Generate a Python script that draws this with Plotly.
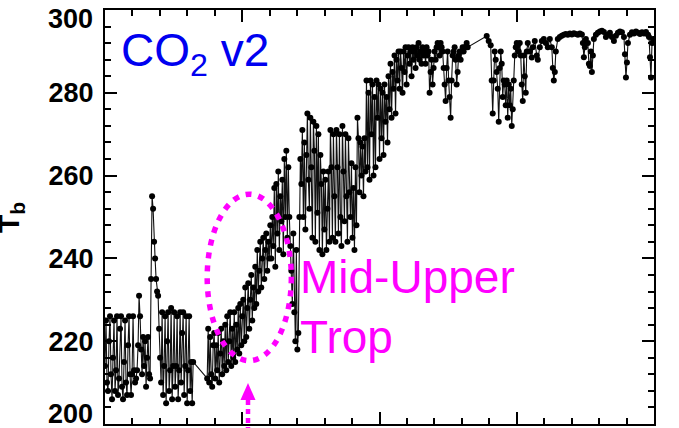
import plotly.graph_objects as go

# ---- data (x = sample position along the track, y = brightness temperature Tb) ----
sample_x = [
    0, 1, 2, 3, 4, 5, 6, 7, 8, 9, 10, 11, 12, 13, 14, 15, 16, 17, 18, 19, 20, 21, 22, 23, 24, 25, 26, 27, 28, 29, 30, 31,
    32, 33, 34, 35, 36, 37, 38, 39, 40, 41, 42, 43, 44,
    45, 46, 47, 48, 49, 50, 51, 52, 53, 54, 55,
    56, 57, 58, 59, 60, 61, 62, 63, 64, 65, 66, 67, 68, 69, 70, 71, 72, 73, 74, 75, 76, 77, 78, 79, 80, 81, 82, 83, 84, 85, 86, 87, 88,
    102, 103, 104, 105, 106, 107, 108,
    109, 110, 111, 112, 113, 114, 115, 116, 117, 118, 119,
    120, 121, 122, 123, 124, 125, 126, 127, 128, 129, 130, 131, 132, 133, 134,
    135, 136, 137, 138, 139, 140, 141, 142, 143, 144, 145, 146, 147, 148, 149,
    150, 151, 152, 153, 154, 155, 156, 157, 158, 159, 160, 161, 162, 163, 164,
    165, 166, 167, 168, 169, 170, 171, 172, 173, 174, 175, 176, 177, 178, 179, 180, 181, 182, 183, 184, 185, 186,
    187, 188, 189, 190, 191, 192, 193,
    194, 195, 196, 197, 198, 199, 200, 201, 202, 203, 204, 205, 206, 207, 208, 209, 210, 211, 212, 213,
    214, 215, 216, 217, 218, 219, 220, 221, 222, 223, 224, 225, 226, 227, 228, 229, 230, 231, 232, 233,
    234, 235, 236, 237, 238, 239, 240, 241, 242, 243, 244, 245, 246, 247, 248, 249, 250, 251, 252, 253,
    254, 255, 256, 257, 258, 259, 260, 261, 262, 263, 264, 265, 266, 267, 268, 269, 270, 271, 272, 273,
    274, 275, 276, 277, 278, 279, 280, 281, 282, 283, 284, 285, 286, 287, 288, 289, 290, 291, 292, 293, 294,
    295, 296, 297, 298, 299, 300, 301, 302, 303, 304, 305, 306, 307, 308, 309, 310, 311, 312, 313, 314,
    315, 316, 317, 318, 319, 320, 321, 322, 323, 324, 325, 326, 327, 328, 329, 330, 331, 332, 333, 334,
    335, 336, 337, 338, 339, 340, 341, 342, 343, 344, 345, 346, 347, 348, 349, 350, 351, 352, 353, 354,
    355, 356, 357, 358, 359, 360, 361, 362,
    381, 383, 385, 386, 387, 388, 389, 390, 391, 392, 393, 394, 395, 396, 397, 398, 399, 400, 401, 402,
    403, 404, 405, 406, 407, 408, 409, 410, 411,
    412, 413, 414, 415, 416, 417, 418, 419, 420, 421, 422, 424, 426, 427, 429, 431, 432, 434, 436, 438,
    440, 442, 444, 446, 447, 448, 449, 450, 452, 454, 456, 458, 460, 462, 464, 466, 468, 470, 472, 474,
    476, 477, 478, 479, 480, 482, 483, 484, 485, 486, 487, 488, 490, 492, 494, 496, 498, 500, 502, 504,
    506, 508, 510, 512, 514, 516, 518, 519, 520, 521, 522, 524, 526, 528, 530, 532, 534, 536, 538, 540,
    542, 543, 544, 545, 546, 547,
]

tb_values = [
    214, 225, 210, 208, 220, 226, 212, 206, 216, 225, 208, 213, 226, 207, 211, 223, 226, 209, 206, 215, 225, 210, 207, 219, 226, 212, 207, 212, 226, 213, 210, 211,
    213, 219, 231, 226, 218, 212, 221, 214, 220, 209, 216, 221, 212,
    211, 235, 255, 252, 244, 240, 235, 232, 231, 223, 216,
    210, 227, 207, 214, 226, 205, 220, 227, 208, 213, 228, 206, 214, 227, 209, 214, 226, 206, 213, 227, 210, 222, 227, 207, 214, 226, 205, 213, 226, 208, 215, 205, 215,
    211, 223, 210, 221, 212, 209, 219,
    222, 211, 219, 213, 222, 210, 217, 223, 212, 220, 214,
    224, 213, 226, 215, 220, 227, 214, 223, 216, 227, 215, 224, 218, 228, 217,
    229, 219, 226, 230, 220, 233, 221, 228, 234, 223, 230, 236, 225, 233, 228,
    238, 229, 242, 232, 237, 244, 233, 240, 245, 235, 242, 246, 237, 244, 240,
    248, 240, 250, 243, 257, 238, 258, 246, 261, 242, 255, 249, 259, 241, 264, 250, 266, 245, 262, 250, 243, 237,
    229, 246, 227, 220, 242, 218, 222,
    250, 264, 258, 271, 250, 268, 247, 265, 275, 259, 252, 274, 262, 245, 273, 266, 244, 272, 251, 270,
    242, 265, 258, 241, 261, 247, 259, 242, 252, 261, 244, 271, 262, 245, 270, 255, 244, 271, 262, 246,
    270, 250, 243, 272, 261, 249, 270, 255, 244, 269, 256, 250, 263, 245, 257, 242, 262, 248, 274, 269,
    256, 268, 260, 267, 255, 269, 261, 283, 262, 280, 259, 283, 270, 282, 260, 279, 262, 283, 274, 282,
    264, 281, 269, 280, 265, 282, 273, 279, 268, 284, 276, 287, 274, 285, 281, 289, 275, 288, 283, 290, 281,
    290, 286, 280, 290, 285, 291, 282, 289, 291, 287, 290, 284, 291, 288, 290, 286, 291, 289, 292, 288,
    290, 287, 291, 289, 290, 287, 291, 289, 290, 280, 285, 288, 282, 286, 290, 288, 291, 292, 291, 289,
    292, 291, 290, 286, 282, 278, 286, 290, 283, 279, 274, 283, 289, 290, 291, 288, 282, 285, 289, 290,
    288, 290, 291, 290, 291, 291, 292, 291,
    293.7, 292.5, 291.5, 283, 275, 283, 290, 288, 285, 281, 273, 286, 290, 287, 279, 283, 282, 277, 283, 274,
    282, 277, 281, 272, 276, 283, 289, 291, 292,
    291.5, 290, 292, 289, 282, 278, 289, 284, 280, 290, 292, 290, 288.5, 291, 292.5, 289, 288, 291, 292.5, 293,
    292, 291, 293, 291, 286, 283, 285, 290, 293, 293.5, 293.8, 294, 294.2, 294, 294.3, 294.1, 294.4, 294.2, 294, 294.3,
    294.1, 292, 288.6, 291, 293, 292, 287, 286.5, 290, 285, 289, 293, 294, 294.5, 294.8, 295, 294.7, 293.5, 294, 294.5,
    293.5, 292.5, 293.8, 294.5, 294.8, 294.6, 293.5, 289.3, 283.7, 287.3, 292, 294, 294.6, 294.3, 294.8, 294.5, 294.2, 294.6, 294.3, 294.7,
    294, 293.5, 288.6, 283.7, 292, 293,
]

assert len(sample_x) == len(tb_values), (len(sample_x), len(tb_values))

y_ticks = [200, 220, 240, 260, 280, 300]
# end labels (200, 300) are nudged inward like the original, so they are placed separately
y_tick_text = ["", "220", "240", "260", "280", ""]
y_end_labels = ["200", "300"]

# ---- figure ----
fig = go.Figure()
fig.add_trace(go.Scatter(
    x=sample_x, y=tb_values, mode="lines+markers",
    line=dict(color="#111111", width=1.1),
    marker=dict(color="black", size=6),
    showlegend=False, cliponaxis=True,
))

W, H = 679, 428
ML, MR, MT, MB = 105, 25, 10, 4
pw = W - ML - MR
ph = H - MT - MB

def px_to_paper(px, py):
    return (px - ML) / pw, (H - MB - py) / ph

tick_font = dict(family="Liberation Sans, Arial, sans-serif", size=27, color="black", weight="bold")

axis_common = dict(
    showline=True, linecolor="black", linewidth=2, mirror="allticks",
    ticks="inside", ticklen=12, tickwidth=2, tickcolor="black",
    showgrid=False, zeroline=False,
)

fig.update_xaxes(range=[0, 548], tick0=0, dtick=137, showticklabels=False,
                 minor=dict(ticks="inside", ticklen=6, tickwidth=1.5, dtick=27.4, tickcolor="black", showgrid=False),
                 **axis_common)
fig.update_yaxes(range=[200, 300], tickvals=y_ticks, ticktext=y_tick_text,
                 tickfont=tick_font, ticklabelstandoff=4, ticklabeloverflow="allow",
                 minor=dict(ticks="inside", ticklen=6, tickwidth=1.5, dtick=4, tickcolor="black", showgrid=False),
                 **axis_common)

# end tick labels
for label, py in zip(y_end_labels, [414, 19]):
    lx, ly = px_to_paper(95, py)
    fig.add_annotation(text=label, xref="paper", yref="paper", x=lx, y=ly,
                       xanchor="right", yanchor="middle", showarrow=False, font=tick_font)

# y-axis title
tx, ty = px_to_paper(10, 218)
fig.add_annotation(text="T<sub>b</sub>", xref="paper", yref="paper", x=tx, y=ty,
                   xanchor="center", yanchor="middle", textangle=-90, showarrow=False,
                   font=dict(family="Liberation Sans, Arial, sans-serif", size=30, color="black", weight="bold"))

# CO2 v2 label
cx, cy = px_to_paper(119, 53)
fig.add_annotation(text="CO<sub>2</sub> v2", xref="paper", yref="paper", x=cx, y=cy,
                   xanchor="left", yanchor="middle", showarrow=False,
                   font=dict(family="Liberation Sans, Arial, sans-serif", size=46, color="#0000F0"))

# Mid-Upper Trop label
mx, my = px_to_paper(298, 307)
fig.add_annotation(text="Mid-Upper<br>Trop", xref="paper", yref="paper", x=mx, y=my,
                   xanchor="left", yanchor="middle", align="left", showarrow=False,
                   font=dict(family="Liberation Sans, Arial, sans-serif", size=46, color="#FF00FF"))

# dotted ellipse around the mid-upper-troposphere rise
fig.add_shape(type="circle", xref="x", yref="y", x0=102, x1=186, y0=215.3, y1=255.5,
              line=dict(color="#FF00FF", width=5.5, dash="6px,7px"), layer="above")

# dotted upward arrow below
ax0, ay0 = px_to_paper(248, 432)
ax1, ay1 = px_to_paper(248, 399)
fig.add_shape(type="line", xref="paper", yref="paper", x0=ax0, y0=ay0, x1=ax1, y1=ay1,
              line=dict(color="#FF00FF", width=4.5, dash="5px,4px"))
hx0, hy0 = px_to_paper(240.5, 400)
hx1, hy1 = px_to_paper(255.5, 400)
hx2, hy2 = px_to_paper(248, 383)
fig.add_shape(type="path", xref="paper", yref="paper",
              path=f"M {hx0},{hy0} L {hx1},{hy1} L {hx2},{hy2} Z",
              fillcolor="#FF00FF", line=dict(color="#FF00FF", width=0))

fig.update_layout(
    width=W, height=H,
    margin=dict(l=ML, r=MR, t=MT, b=MB, autoexpand=False),
    paper_bgcolor="white", plot_bgcolor="white",
    showlegend=False,
)

fig.write_html("out.html")
